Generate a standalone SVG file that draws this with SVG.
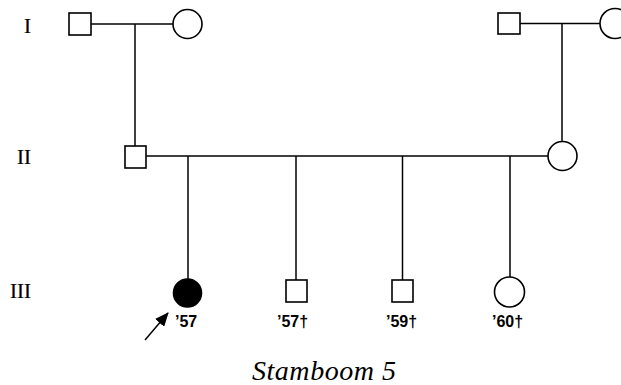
<svg xmlns="http://www.w3.org/2000/svg" width="621" height="385" viewBox="0 0 621 385">
<style>
.s{fill:#fff;stroke:#000;stroke-width:1.6}
.f{fill:#000;stroke:#000;stroke-width:1.6}
.l{fill:none;stroke:#000;stroke-width:1.5}
.r{font-family:"Liberation Serif",serif;font-size:21px;fill:#000;stroke:#000;stroke-width:0.2}
.y{font-family:"Liberation Sans",sans-serif;font-size:16px;font-weight:bold;fill:#000}
.c{font-family:"Liberation Serif",serif;font-style:italic;font-size:28px;fill:#000}
</style>
<defs>
<marker id="ah" markerWidth="14" markerHeight="12" refX="13" refY="6" orient="auto" markerUnits="userSpaceOnUse">
<path d="M0,0 L14,6 L0,12 Z" fill="#000"/>
</marker>
</defs>
<g id="gen-labels">
<text class="r" x="31" y="33" text-anchor="end">I</text>
<text class="r" x="31" y="164" text-anchor="end">II</text>
<text class="r" x="31" y="298" text-anchor="end">III</text>
</g>
<g id="connectors">
<path class="l" d="M91,24 H173"/>
<path class="l" d="M135,24 V146"/>
<path class="l" d="M520,23.5 H600"/>
<path class="l" d="M562,23.5 V141"/>
<path class="l" d="M146,156 H548"/>
<path class="l" d="M188,156 V280"/>
<path class="l" d="M296,156 V280"/>
<path class="l" d="M402.5,156 V280"/>
<path class="l" d="M510,156 V277"/>
<path class="l" d="M145,340 L168,313" marker-end="url(#ah)"/>
</g>
<g id="I-1"><rect class="s" x="69" y="13" width="22" height="22"/></g>
<g id="I-2"><circle class="s" cx="187.5" cy="24" r="14.5"/></g>
<g id="I-3"><rect class="s" x="498" y="13" width="22" height="21"/></g>
<g id="I-4"><circle class="s" cx="615" cy="23.5" r="15"/></g>
<g id="II-1"><rect class="s" x="125" y="146" width="21" height="22"/></g>
<g id="II-2"><circle class="s" cx="562.5" cy="156" r="14.5"/></g>
<g id="III-1"><circle class="f" cx="187.5" cy="293" r="14"/><text class="y" x="175" y="327">’57</text></g>
<g id="III-2"><rect class="s" x="286" y="280" width="21" height="22"/><text class="y" x="277" y="327">’57†</text></g>
<g id="III-3"><rect class="s" x="392" y="280" width="21" height="22"/><text class="y" x="386" y="327">’59†</text></g>
<g id="III-4"><circle class="s" cx="509.5" cy="292" r="15"/><text class="y" x="492" y="327">’60†</text></g>
<g id="caption"><text class="c" x="252" y="380" textLength="144" lengthAdjust="spacing">Stamboom 5</text></g>
</svg>
